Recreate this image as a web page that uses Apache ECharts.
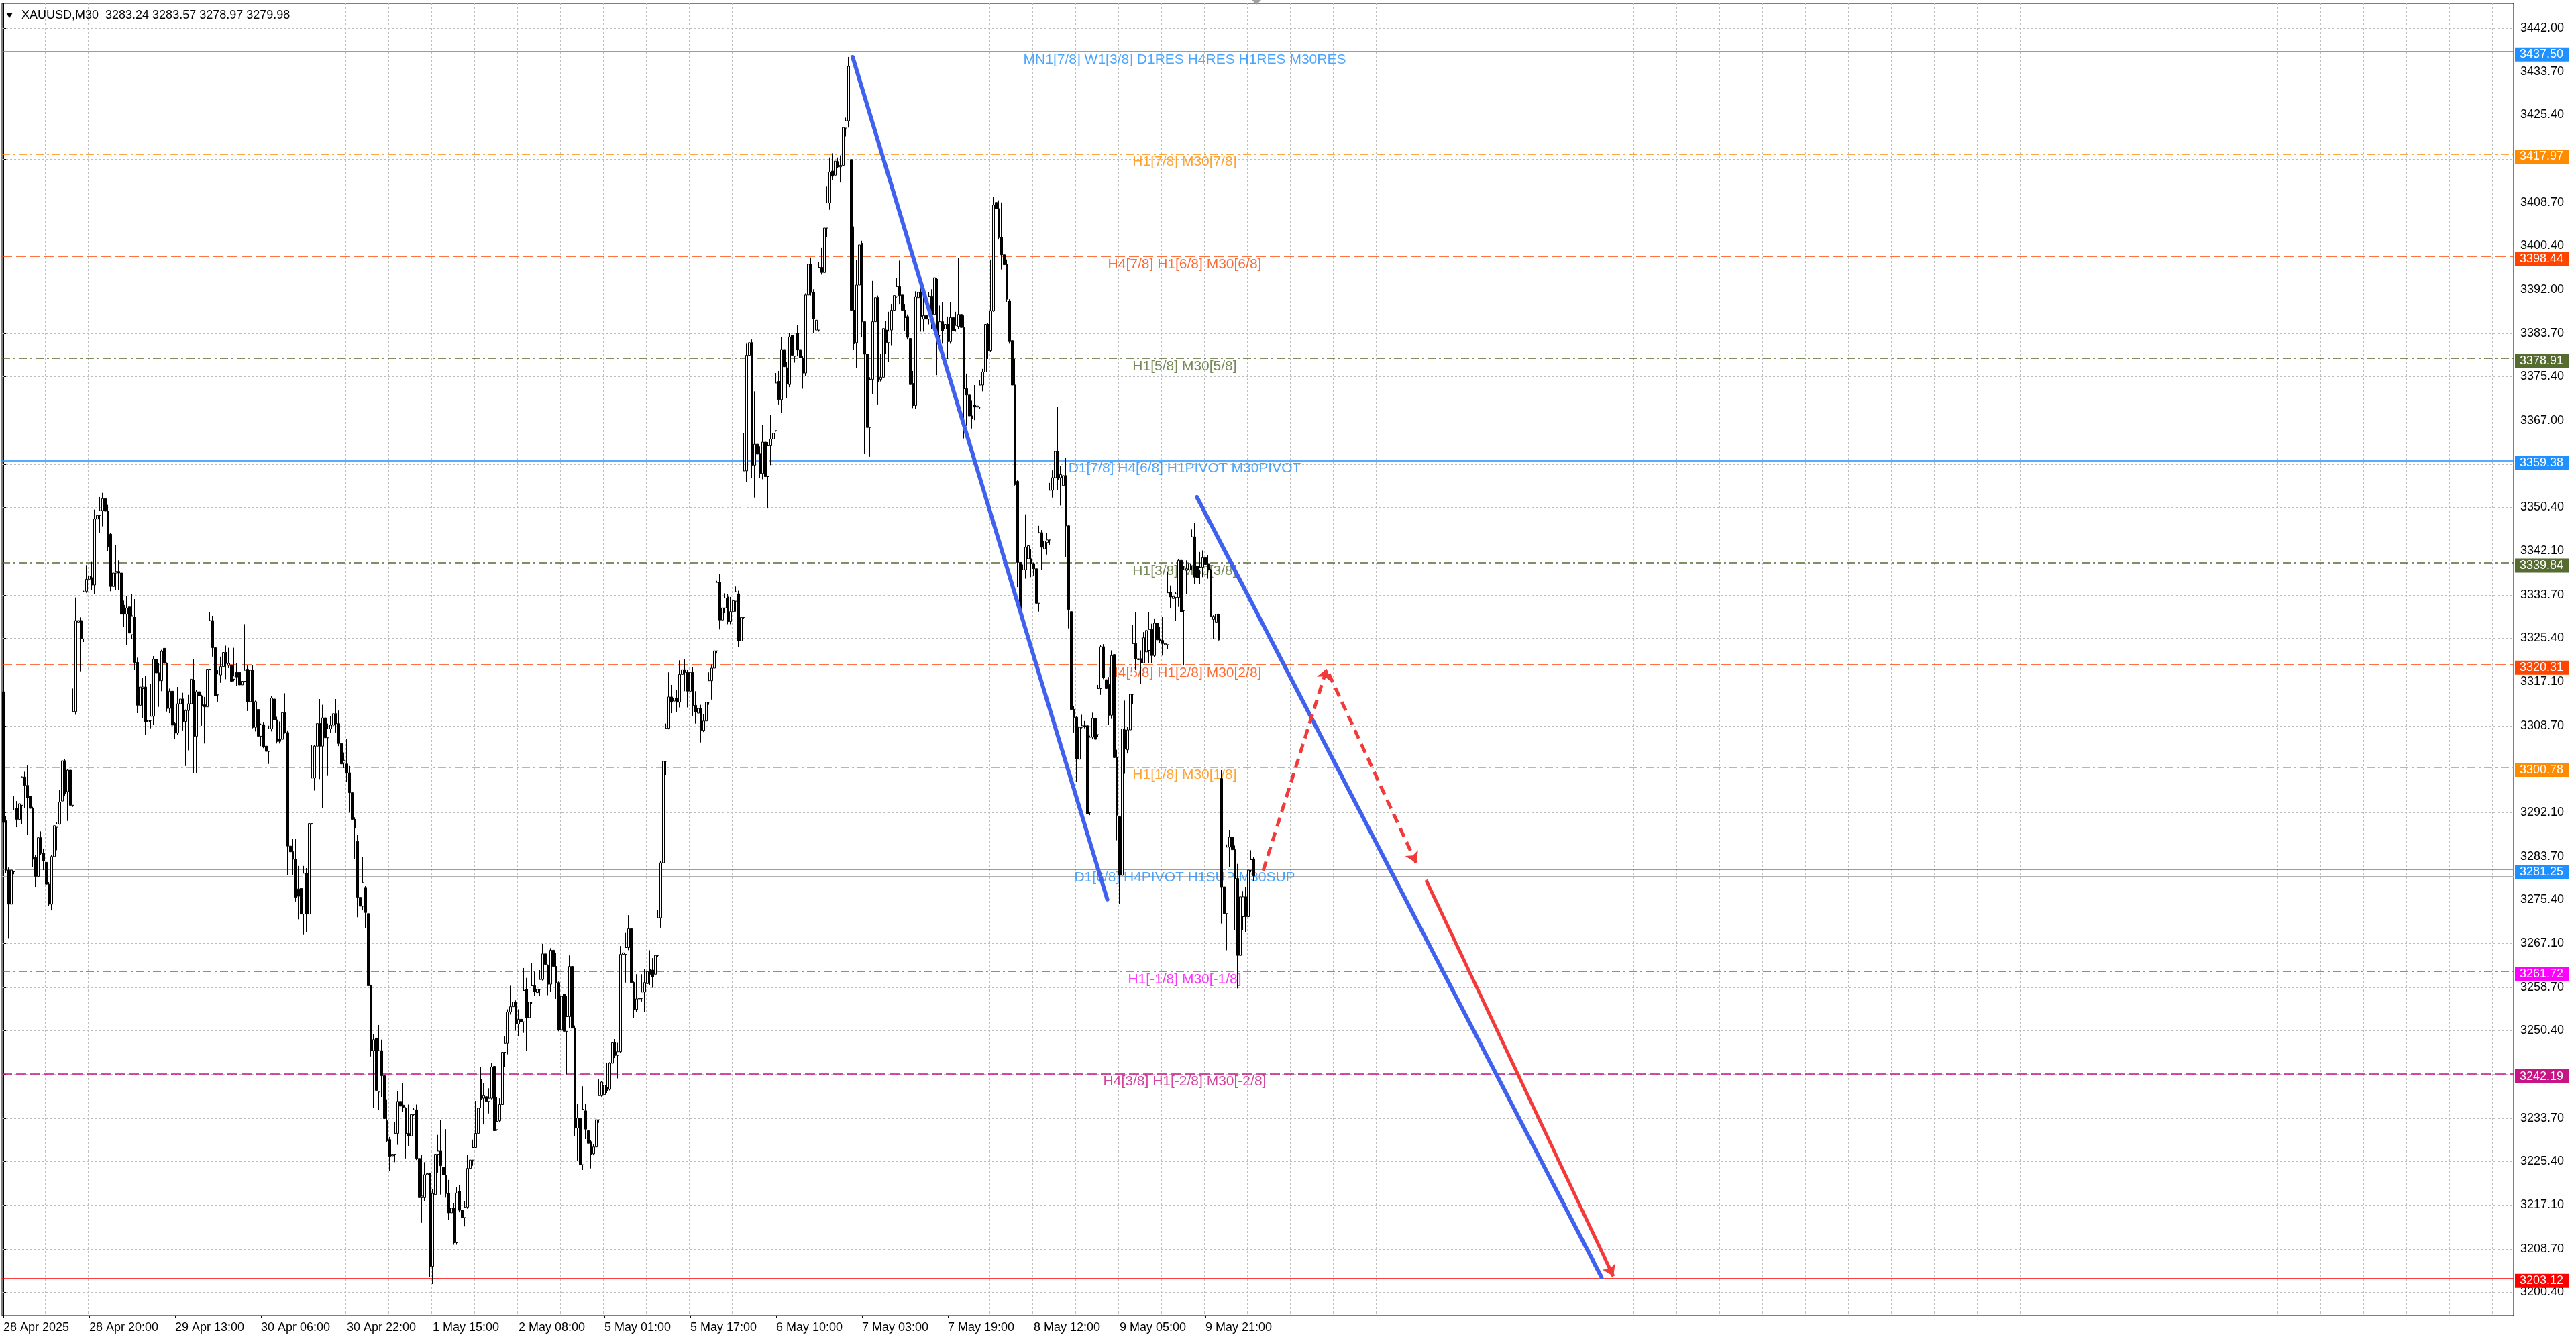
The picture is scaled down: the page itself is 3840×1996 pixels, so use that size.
<!DOCTYPE html>
<html><head><meta charset="utf-8">
<script src="https://cdn.jsdelivr.net/npm/echarts@6/dist/echarts.min.js"></script>
<style>html,body{margin:0;padding:0;background:#fff;}#c{width:3840px;height:1996px;}</style>
</head><body><div id="c"></div>
<script>
// ---------- DATA ----------
const symbolName = 'XAUUSD,M30';
const timeLabels = ['28 Apr 2025','28 Apr 20:00','29 Apr 13:00','30 Apr 06:00','30 Apr 22:00','1 May 15:00','2 May 08:00','5 May 01:00','5 May 17:00','6 May 10:00','7 May 03:00','7 May 19:00','8 May 12:00','9 May 05:00','9 May 21:00'];
const O = [3315.2,3290.5,3281.1,3274.6,3280.8,3292.9,3290.8,3293.5,3298.9,3297.3,
3295.2,3292.9,3283.5,3279.9,3287.3,3284.3,3282.6,3278.4,3274.6,3283.7,
3289.3,3289.9,3294.3,3302.0,3296.1,3300.2,3293.5,3311.4,3328.5,3328.8,
3325.3,3334.4,3336.7,3337.0,3335.6,3348.2,3348.9,3349.8,3352.1,3349.7,
3345.3,3335.3,3337.9,3338.2,3337.9,3331.7,3330.0,3331.4,3326.1,3329.5,
3320.8,3312.6,3315.8,3316.1,3309.4,3309.7,3310.5,3321.4,3318.8,3317.3,
3323.5,3320.6,3312.0,3315.3,3309.1,3307.3,3312.9,3313.8,3309.5,3311.6,
3312.9,3317.4,3306.7,3315.2,3314.4,3312.7,3312.3,3319.5,3328.8,3323.6,
3314.6,3318.4,3320.0,3322.7,3320.2,3320.3,3317.6,3318.9,3318.9,3316.5,
3317.2,3319.5,3313.3,3319.3,3308.4,3311.8,3306.7,3308.9,3304.8,3303.8,
3308.1,3313.8,3309.8,3306.1,3306.1,3311.2,3307.4,3285.7,3284.6,3283.2,
3277.5,3277.6,3272.7,3280.5,3272.7,3290.0,3298.7,3304.8,3309.1,3304.8,
3310.2,3306.4,3308.1,3308.8,3311.0,3309.1,3305.3,3301.6,3301.4,3299.7,
3295.9,3290.8,3286.6,3275.9,3274.2,3277.8,3272.8,3259.0,3246.6,3249.0,
3238.7,3246.6,3241.8,3233.2,3229.6,3226.5,3226.8,3230.8,3236.9,3236.2,
3235.6,3230.8,3230.3,3234.4,3235.3,3226.0,3218.5,3218.5,3222.9,3223.1,
3205.4,3219.1,3226.8,3227.4,3224.3,3222.7,3219.3,3215.6,3216.5,3209.9,
3219.7,3216.1,3214.7,3216.7,3224.1,3225.7,3228.1,3230.8,3241.1,3237.5,
3237.8,3236.9,3237.5,3243.6,3231.5,3233.2,3236.3,3246.3,3248.0,3254.0,
3255.0,3255.9,3251.7,3252.6,3252.1,3258.3,3252.9,3255.9,3259.0,3257.7,
3258.3,3260.2,3265.1,3262.9,3259.3,3265.8,3262.7,3259.6,3250.6,3257.4,
3250.3,3253.1,3262.7,3250.9,3231.8,3233.7,3224.8,3235.1,3231.3,3229.2,
3226.9,3228.2,3233.4,3238.0,3238.2,3239.5,3239.2,3244.2,3248.1,3245.7,
3246.4,3265.0,3265.0,3266.3,3269.9,3259.6,3254.5,3256.5,3256.6,3257.8,
3259.4,3262.2,3262.0,3261.2,3264.8,3272.0,3282.5,3301.9,3308.2,3314.2,
3313.4,3314.0,3313.2,3318.5,3319.4,3318.9,3315.3,3318.9,3312.6,3311.1,
3312.0,3307.8,3309.6,3313.2,3317.3,3319.7,3323.0,3336.1,3328.9,3331.2,
3333.3,3328.6,3330.5,3332.5,3333.9,3324.9,3329.4,3357.4,3379.5,3381.9,
3358.5,3362.5,3360.6,3356.9,3362.9,3356.3,3362.2,3363.5,3365.1,3374.5,
3371.0,3380.6,3377.1,3373.9,3383.3,3379.3,3383.7,3380.6,3379.0,3376.1,
3391.0,3396.9,3391.5,3384.3,3384.3,3396.3,3395.3,3403.8,3408.6,3414.7,
3413.9,3416.5,3415.5,3415.8,3422.9,3424.3,3416.9,3388.1,3381.9,3392.9,
3400.9,3385.9,3379.7,3365.7,3374.9,3385.9,3390.5,3374.9,3375.3,3384.3,
3381.9,3384.3,3388.1,3390.7,3392.6,3391.0,3388.1,3386.9,3382.7,3374.1,
3369.9,3390.5,3391.6,3386.4,3387.1,3386.4,3390.8,3387.3,3394.0,3383.3,
3385.9,3384.5,3385.4,3382.1,3386.7,3384.5,3385.0,3387.3,3384.8,3373.1,
3371.9,3367.9,3370.0,3369.6,3369.6,3373.8,3376.3,3385.4,3380.4,3388.0,
3408.7,3407.5,3402.0,3398.7,3396.8,3389.9,3382.3,3373.8,3355.4,3339.9,
3330.0,3338.5,3340.6,3340.6,3339.7,3338.7,3332.1,3345.6,3342.5,3343.7,
3344.2,3353.7,3356.1,3361.1,3356.1,3354.6,3356.5,3346.9,3330.5,3311.8,
3310.3,3302.3,3308.4,3308.7,3308.7,3292.1,3306.5,3310.1,3307.0,3315.8,
3323.8,3317.5,3316.6,3310.7,3322.3,3302.6,3291.3,3280.1,3307.9,3304.1,
3307.9,3314.7,3324.4,3321.3,3321.5,3320.7,3322.8,3323.1,3327.1,3322.1,
3328.3,3325.3,3325.0,3324.2,3324.2,3334.2,3333.0,3333.2,3333.2,3340.3,
3330.7,3338.4,3338.5,3339.3,3344.8,3339.2,3338.5,3339.0,3340.8,3339.7,
3338.5,3329.0,3328.5,3330.0,3298.6,3277.9,3272.8,3285.5,3287.4,3285.0,
3279.5,3264.8,3272.2,3276.0,3272.2,3281.1,3283.24];
const H = [3316.5,3291.4,3281.6,3281.5,3295.2,3294.3,3294.3,3299.0,3299.9,3301.1,
3296.7,3293.2,3284.0,3292.6,3288.5,3285.2,3287.3,3278.8,3284.0,3292.0,
3290.2,3296.4,3302.2,3302.3,3300.4,3301.4,3315.8,3333.2,3336.2,3329.4,
3334.5,3339.4,3339.4,3340.0,3350.0,3350.0,3352.4,3353.2,3352.4,3350.9,
3345.5,3340.0,3343.2,3340.3,3339.4,3332.6,3333.5,3340.3,3333.8,3332.9,
3321.7,3317.6,3317.9,3318.2,3312.9,3316.7,3322.0,3324.1,3320.6,3323.2,
3325.3,3320.8,3315.8,3316.1,3309.4,3316.1,3316.1,3315.0,3311.8,3314.6,
3318.0,3321.4,3315.5,3315.5,3314.6,3314.2,3320.2,3330.4,3329.7,3325.7,
3319.3,3321.9,3325.1,3324.0,3323.6,3321.9,3323.6,3320.6,3319.3,3318.0,
3328.1,3320.2,3322.7,3320.2,3313.5,3312.3,3309.1,3309.3,3307.0,3308.7,
3314.4,3314.9,3310.4,3309.5,3312.7,3314.9,3307.8,3289.1,3287.0,3287.0,
3281.9,3280.2,3281.9,3281.5,3292.1,3305.0,3305.0,3320.0,3313.8,3312.7,
3314.6,3309.1,3310.6,3314.2,3313.8,3311.6,3307.8,3303.6,3306.1,3301.0,
3296.1,3291.2,3287.8,3276.8,3283.6,3278.1,3273.5,3259.2,3249.7,3251.4,
3251.5,3248.7,3242.5,3237.3,3230.1,3231.8,3233.0,3238.9,3243.3,3240.4,
3235.8,3236.3,3236.6,3235.6,3236.3,3226.2,3226.7,3225.3,3227.0,3223.3,
3220.2,3232.9,3230.5,3233.4,3228.4,3231.6,3221.9,3217.1,3217.4,3220.5,
3220.9,3216.4,3217.8,3226.7,3227.0,3229.6,3237.0,3235.8,3243.5,3240.4,
3239.9,3239.4,3244.2,3244.5,3237.7,3237.5,3247.6,3249.3,3254.5,3259.0,
3257.4,3256.2,3254.5,3256.2,3262.4,3260.5,3258.4,3263.4,3261.7,3259.6,
3262.0,3267.0,3265.8,3263.1,3266.2,3269.4,3265.3,3259.8,3259.6,3259.6,
3257.0,3264.8,3264.3,3251.4,3236.4,3235.9,3239.8,3236.4,3232.8,3229.5,
3228.7,3234.7,3241.1,3240.8,3243.1,3244.2,3244.4,3252.6,3248.8,3248.1,
3266.6,3271.2,3269.1,3272.5,3271.5,3259.8,3261.2,3259.1,3261.2,3262.2,
3262.5,3265.8,3264.3,3266.8,3273.5,3282.8,3302.0,3309.1,3318.9,3316.5,
3315.8,3315.5,3321.2,3322.5,3321.4,3319.4,3328.6,3319.9,3315.3,3317.8,
3312.7,3310.9,3315.8,3318.9,3320.4,3323.7,3336.4,3337.7,3333.8,3334.0,
3333.8,3333.3,3333.8,3335.3,3334.5,3330.2,3364.6,3381.7,3387.0,3382.5,
3372.6,3364.5,3362.1,3366.2,3364.1,3362.9,3368.1,3367.5,3376.1,3376.5,
3383.0,3381.3,3378.2,3383.7,3383.8,3383.8,3385.3,3381.3,3379.3,3391.3,
3397.3,3398.2,3392.1,3388.9,3397.3,3400.1,3404.1,3411.7,3417.3,3418.1,
3417.1,3417.3,3417.7,3423.3,3424.9,3436.5,3422.1,3404.1,3397.7,3404.5,
3401.4,3386.1,3381.3,3375.3,3393.7,3392.3,3390.9,3379.7,3386.9,3386.1,
3387.8,3389.3,3395.8,3394.2,3397.6,3391.3,3389.3,3387.3,3382.9,3376.5,
3391.7,3393.7,3394.0,3391.6,3392.6,3391.6,3392.1,3398.2,3394.3,3389.0,
3389.7,3386.9,3386.9,3389.7,3387.3,3387.8,3398.1,3390.7,3387.1,3376.0,
3374.1,3370.8,3373.8,3371.7,3374.7,3376.9,3386.9,3385.6,3397.8,3409.8,
3414.8,3409.1,3408.7,3399.7,3397.8,3390.2,3384.0,3378.8,3355.6,3340.1,
3339.5,3349.1,3344.2,3342.5,3339.9,3344.7,3346.9,3346.1,3344.7,3345.6,
3355.1,3357.5,3364.9,3369.6,3358.4,3358.9,3359.9,3347.1,3330.7,3312.5,
3310.5,3309.0,3310.8,3309.6,3311.0,3306.8,3311.2,3310.3,3316.5,3324.1,
3324.3,3317.9,3318.0,3323.1,3322.8,3304.1,3291.5,3308.5,3313.5,3308.5,
3319.3,3327.9,3330.4,3325.0,3323.1,3326.6,3332.1,3330.4,3328.2,3329.2,
3331.1,3327.6,3329.5,3326.3,3338.1,3335.5,3335.5,3334.2,3340.6,3340.5,
3339.3,3340.3,3343.5,3346.2,3347.4,3342.2,3341.9,3342.2,3342.8,3341.3,
3338.7,3329.8,3330.4,3330.1,3300.2,3281.1,3286.0,3288.8,3290.3,3285.8,
3282.3,3276.1,3277.1,3277.9,3281.4,3284.9,3283.57];
const L = [3289.0,3280.5,3268.1,3272.3,3280.3,3289.3,3288.8,3289.9,3292.9,3287.9,
3292.6,3281.7,3277.9,3279.0,3284.0,3281.1,3278.2,3274.3,3273.4,3283.5,
3284.9,3289.8,3292.6,3295.2,3290.5,3287.0,3293.2,3310.8,3323.5,3319.1,
3324.7,3334.1,3333.2,3334.7,3333.8,3346.5,3345.6,3346.8,3347.9,3342.0,
3334.4,3334.4,3334.7,3334.7,3327.9,3327.6,3324.1,3322.6,3325.3,3319.4,
3311.1,3308.5,3310.2,3307.0,3305.2,3308.2,3308.8,3315.0,3312.3,3315.3,
3320.0,3311.4,3311.1,3308.5,3306.1,3307.0,3312.6,3307.8,3301.0,3304.0,
3312.1,3299.7,3299.7,3308.7,3308.7,3305.3,3312.1,3319.3,3321.9,3313.3,
3313.3,3316.9,3319.7,3317.6,3319.7,3316.9,3317.2,3316.3,3311.0,3312.9,
3317.0,3311.5,3312.5,3308.2,3307.6,3305.3,3304.8,3304.4,3302.7,3301.4,
3307.6,3309.6,3305.3,3305.3,3303.1,3307.2,3280.2,3284.4,3280.2,3275.1,
3271.7,3272.5,3268.7,3269.3,3267.0,3289.8,3296.3,3304.4,3298.5,3292.9,
3303.1,3299.1,3307.4,3308.2,3307.4,3304.8,3300.8,3300.6,3298.0,3292.1,
3289.1,3283.2,3272.1,3271.3,3273.4,3270.0,3245.2,3245.5,3235.6,3234.6,
3235.3,3237.7,3231.2,3229.1,3223.6,3221.2,3225.3,3228.6,3234.9,3234.9,
3226.0,3228.4,3230.1,3234.2,3225.7,3215.7,3213.7,3217.8,3222.6,3203.4,
3202.0,3218.5,3223.3,3219.1,3214.3,3218.5,3214.3,3205.1,3209.5,3209.5,
3215.7,3209.9,3213.0,3216.4,3223.9,3224.6,3227.9,3230.1,3235.6,3232.5,
3236.6,3234.6,3237.3,3227.4,3231.3,3232.9,3236.0,3243.5,3245.9,3253.5,
3254.7,3250.4,3249.3,3251.7,3250.0,3246.5,3251.7,3255.5,3257.0,3257.4,
3257.0,3260.0,3261.7,3257.2,3257.9,3259.6,3256.5,3250.3,3239.0,3243.7,
3242.1,3250.9,3248.1,3230.3,3225.6,3222.7,3223.8,3229.7,3226.1,3224.1,
3226.6,3227.7,3232.8,3237.8,3238.0,3238.5,3239.0,3243.7,3245.2,3241.3,
3246.2,3264.8,3259.6,3265.8,3257.0,3252.9,3254.0,3253.4,3256.0,3254.0,
3259.1,3259.1,3258.6,3260.7,3264.5,3270.1,3282.1,3299.3,3308.0,3311.1,
3312.2,3311.3,3312.2,3315.8,3315.3,3312.2,3309.6,3310.6,3309.1,3308.6,
3305.5,3307.5,3309.3,3312.7,3313.7,3319.4,3322.5,3327.1,3328.6,3330.2,
3328.1,3328.1,3330.2,3330.5,3323.8,3323.3,3329.2,3355.3,3375.0,3356.1,
3352.3,3355.8,3356.1,3355.8,3353.9,3350.2,3358.5,3361.7,3364.9,3370.1,
3368.5,3374.9,3371.3,3373.4,3378.1,3378.1,3379.3,3373.4,3373.1,3375.5,
3390.1,3390.9,3383.8,3378.1,3384.0,3394.9,3394.7,3402.1,3407.3,3412.9,
3410.2,3415.3,3412.5,3414.7,3421.3,3423.0,3384.6,3380.6,3377.1,3390.0,
3382.9,3360.6,3362.5,3360.1,3372.1,3385.3,3370.1,3374.5,3374.9,3379.7,
3378.2,3381.3,3387.7,3390.5,3389.3,3386.1,3384.1,3382.5,3373.3,3369.4,
3369.3,3389.3,3384.0,3384.0,3386.1,3385.4,3384.5,3386.4,3375.7,3381.9,
3381.7,3382.1,3378.8,3381.7,3383.8,3384.0,3384.5,3376.0,3363.6,3366.0,
3365.1,3365.5,3367.1,3367.9,3369.3,3372.6,3375.0,3378.8,3380.2,3387.8,
3407.2,3401.6,3395.9,3395.6,3389.7,3381.7,3370.3,3354.6,3335.2,3320.3,
3329.5,3336.8,3337.6,3337.1,3337.4,3331.4,3330.5,3338.5,3339.7,3341.4,
3343.3,3352.3,3355.8,3353.7,3350.8,3352.7,3340.9,3327.3,3304.4,3307.4,
3298.0,3299.5,3308.2,3308.2,3289.0,3291.6,3306.1,3303.6,3306.5,3314.6,
3317.6,3312.2,3308.8,3310.0,3297.9,3286.8,3274.7,3279.9,3299.5,3303.4,
3307.7,3312.9,3319.3,3314.8,3316.7,3320.6,3322.1,3320.6,3320.6,3321.8,
3325.0,3324.5,3322.1,3322.0,3323.4,3331.1,3331.1,3328.8,3331.4,3330.1,
3320.2,3333.9,3338.2,3338.4,3335.8,3336.8,3335.8,3337.1,3338.4,3336.8,
3329.5,3325.3,3325.3,3325.0,3270.9,3266.7,3265.8,3281.7,3282.7,3269.6,
3258.5,3263.9,3269.6,3269.3,3270.2,3280.7,3278.97];
const C = [3290.2,3281.1,3274.6,3281.1,3292.6,3290.8,3293.8,3298.9,3297.3,3294.9,
3292.9,3283.2,3279.9,3287.3,3284.3,3282.9,3278.4,3274.6,3283.7,3289.6,
3289.9,3294.1,3302.0,3295.8,3300.2,3293.5,3311.4,3328.8,3328.8,3325.3,
3334.3,3336.7,3337.3,3335.6,3348.2,3348.9,3349.8,3352.1,3349.7,3342.9,
3335.3,3337.9,3338.2,3337.9,3330.0,3330.0,3331.2,3326.4,3329.7,3320.8,
3312.6,3316.1,3316.1,3309.4,3309.7,3310.5,3321.4,3318.8,3317.3,3322.9,
3320.6,3312.0,3315.3,3308.8,3307.3,3312.9,3313.8,3309.5,3311.6,3312.9,
3317.6,3306.7,3315.2,3314.4,3312.5,3312.3,3319.5,3328.8,3323.6,3314.4,
3318.6,3320.0,3322.7,3320.6,3320.6,3317.2,3318.2,3318.0,3316.5,3317.2,
3319.3,3313.3,3319.3,3308.4,3313.3,3306.7,3308.9,3304.7,3303.8,3308.1,
3314.0,3309.8,3305.7,3305.7,3311.2,3307.4,3285.7,3284.6,3283.2,3275.9,
3276.1,3272.7,3280.5,3272.7,3290.0,3298.7,3304.8,3309.1,3304.8,3310.2,
3306.4,3308.1,3308.8,3311.0,3309.1,3305.3,3301.4,3302.1,3299.7,3295.9,
3290.8,3289.1,3275.9,3274.2,3278.7,3273.0,3259.0,3246.6,3248.7,3239.0,
3246.6,3241.8,3233.6,3229.4,3226.4,3226.8,3230.8,3236.9,3236.0,3235.8,
3230.7,3230.3,3234.4,3235.3,3226.0,3218.5,3218.8,3222.9,3223.1,3205.4,
3219.3,3226.8,3227.4,3224.6,3222.9,3219.3,3215.6,3216.5,3209.9,3219.4,
3216.1,3214.7,3216.7,3224.1,3225.7,3228.1,3230.8,3235.6,3237.3,3238.0,
3236.9,3237.5,3243.5,3231.3,3233.1,3236.3,3246.3,3248.0,3254.0,3255.0,
3255.9,3251.7,3252.6,3252.1,3258.1,3252.9,3255.9,3259.0,3257.9,3258.3,
3260.2,3265.1,3263.1,3259.3,3265.8,3262.7,3259.6,3250.6,3257.0,3250.3,
3253.1,3262.7,3250.9,3231.8,3233.7,3224.8,3235.4,3231.6,3228.9,3226.7,
3228.2,3233.4,3238.0,3240.6,3240.0,3239.0,3244.2,3248.1,3245.7,3246.4,
3265.0,3265.3,3266.3,3269.9,3259.6,3254.5,3256.5,3256.6,3257.8,3259.6,
3261.7,3261.2,3260.7,3264.8,3272.0,3282.5,3301.9,3308.2,3314.2,3313.2,
3314.0,3313.2,3318.5,3319.4,3318.9,3315.3,3318.9,3312.6,3311.3,3312.0,
3307.8,3309.6,3313.2,3317.3,3319.7,3323.0,3336.1,3328.9,3331.2,3333.1,
3328.6,3330.5,3332.6,3334.3,3324.9,3329.4,3357.4,3379.5,3381.9,3358.5,
3362.5,3360.6,3356.9,3362.9,3356.3,3362.2,3363.5,3364.6,3374.2,3371.0,
3380.6,3377.3,3374.1,3383.0,3379.5,3383.7,3380.5,3379.0,3376.1,3391.0,
3396.9,3391.5,3386.5,3386.2,3396.3,3395.3,3403.8,3408.6,3414.5,3413.7,
3416.6,3415.5,3415.8,3423.0,3424.3,3434.7,3388.1,3381.7,3392.9,3400.6,
3385.9,3379.7,3365.7,3374.9,3385.9,3390.5,3374.5,3375.3,3384.6,3381.9,
3384.1,3388.1,3390.9,3392.6,3390.9,3388.1,3386.7,3382.9,3373.9,3369.9,
3390.7,3391.5,3386.9,3387.1,3386.4,3390.8,3387.3,3394.3,3383.3,3385.9,
3384.2,3385.4,3382.1,3386.7,3384.2,3385.2,3387.3,3384.8,3373.1,3371.9,
3367.9,3367.4,3369.6,3369.8,3373.8,3376.3,3385.4,3380.4,3388.0,3408.2,
3407.5,3402.0,3398.7,3396.8,3390.2,3382.1,3373.8,3354.8,3339.9,3330.0,
3338.5,3342.8,3343.1,3339.7,3338.7,3332.1,3345.6,3342.8,3344.0,3344.2,
3353.7,3356.1,3361.1,3355.8,3356.7,3356.5,3346.9,3330.9,3311.8,3310.3,
3302.3,3308.4,3308.7,3308.5,3291.9,3306.5,3310.1,3306.1,3315.8,3323.8,
3317.9,3315.8,3310.7,3322.1,3302.6,3291.6,3280.1,3308.1,3304.3,3307.9,
3314.7,3324.4,3321.5,3321.5,3320.7,3325.5,3326.9,3327.1,3322.1,3328.3,
3325.1,3325.0,3324.4,3324.4,3334.1,3333.3,3333.4,3333.9,3340.3,3330.4,
3338.5,3338.7,3339.7,3344.8,3337.1,3337.0,3339.0,3340.8,3339.5,3338.5,
3329.6,3329.6,3330.0,3325.1,3277.9,3272.8,3285.5,3287.4,3285.0,3279.5,
3264.8,3276.0,3276.0,3272.2,3281.1,3283.1,3279.98];

// price axis ticks (as printed on the axis); hidden ones lie under price tags
const yTicks = [3200.40,3208.70,3217.10,3225.40,3233.70,3242.10,3250.40,3258.70,3267.10,3275.40,3283.70,3292.10,3300.40,3308.70,3317.10,3325.40,3333.70,3342.10,3350.40,3358.70,3367.00,3375.40,3383.70,3392.00,3400.40,3408.70,3417.00,3425.40,3433.70,3442.00];
const yTicksHidden = [3242.10,3300.40,3358.70,3417.00];

// Murrey-math levels
const levelPrices = [3437.50,3417.97,3398.44,3378.91,3359.38,3339.84,3320.31,3300.78,3281.25,3261.72,3242.19,3203.12];
const levelTexts = ['MN1[7/8] W1[3/8] D1RES H4RES H1RES M30RES','H1[7/8] M30[7/8]','H4[7/8] H1[6/8] M30[6/8]','H1[5/8] M30[5/8]','D1[7/8] H4[6/8] H1PIVOT M30PIVOT','H1[3/8] M30[3/8]','H4[5/8] H1[2/8] M30[2/8]','H1[1/8] M30[1/8]','D1[6/8] H4PIVOT H1SUP M30SUP','H1[-1/8] M30[-1/8]','H4[3/8] H1[-2/8] M30[-2/8]',''];
const bidPrice = 3279.98;

// drawn trend lines / arrows: [bar index, price]
const blueLine1 = [[316.5,3436.5],[411.4,3275.5]];
const blueLine2 = [[444.8,3352.4],[595.6,3203.3]];
const redDashUp = [[469.5,3281.0],[493.2,3319.6]];
const redDashDown = [[494.0,3318.6],[526.5,3282.5]];
const redSolid = [[530.2,3279.2],[600.0,3203.5]];

// ---------- STYLE / LAYOUT ----------
const SLOTS = 936;              // bars that fit the plot width (incl. right shift)
const LABEL_STEP = 32, GRID_STEP = 16;
const TEXT_SLOT = 440.25;       // x (bar) where level texts are centred
const UI = '"Liberation Sans", Arial, sans-serif';
const UI_SIZE = 18;
const DASH = [15,6], DASHDOT = [12,5,3,5];
const levelStyles = [
  {c:'#1E90FF', t:'solid'}, {c:'#FF8C00', t:DASHDOT}, {c:'#FF4500', t:DASH}, {c:'#556B2F', t:DASHDOT},
  {c:'#1E90FF', t:'solid'}, {c:'#556B2F', t:DASHDOT}, {c:'#FF4500', t:DASH}, {c:'#FF8C00', t:DASHDOT},
  {c:'#1E90FF', t:'solid'}, {c:'#FF00FF', t:DASHDOT}, {c:'#C71585', t:DASH}, {c:'#FF0000', t:'solid'}
];

const slots = Array.from({length: SLOTS}, (_, i) => String(i));
const candles = O.map((o, i) => [o, C[i], L[i], H[i]]);
const last = O.length - 1;
const header = symbolName + '  ' + [O[last], H[last], L[last], C[last]].map(v => v.toFixed(2)).join(' ');
const labelIdx = i => i % LABEL_STEP === 0 && (i / LABEL_STEP) < timeLabels.length;

const chart = echarts.init(document.getElementById('c'), null, {renderer: 'canvas'});
chart.setOption({
  animation: false,
  backgroundColor: '#ffffff',
  grid: {left: 3, right: 93, top: 5, bottom: 35, show: true, borderColor: '#000', borderWidth: 1, backgroundColor: 'transparent'},
  xAxis: [{
    type: 'category', data: slots, boundaryGap: true,
    axisLine: {show: true, lineStyle: {color: '#000', width: 1}},
    axisTick: {show: true, alignWithLabel: true, interval: (i) => labelIdx(i), length: 4, lineStyle: {color: '#000'}},
    axisLabel: {show: true, interval: (i) => labelIdx(i), formatter: (v, i) => timeLabels[i / LABEL_STEP] || '',
      align: 'left', margin: 9, color: '#000', fontFamily: UI, fontSize: UI_SIZE},
    splitLine: {show: true, interval: (i) => i > 0 && i % GRID_STEP === 0, lineStyle: {color: '#bdbdbd', width: 1, type: [3, 3]}}
  }, {
    type: 'value', min: -0.5, max: SLOTS - 0.5, show: false
  }],
  yAxis: {
    type: 'value', position: 'right', min: 3195.98, max: 3446.75,
    axisLine: {show: true, lineStyle: {color: '#000', width: 1}},
    axisTick: {show: true, customValues: yTicks, length: 4, lineStyle: {color: '#000'}},
    axisLabel: {show: true, customValues: yTicks.filter(v => !yTicksHidden.includes(v)), formatter: v => v.toFixed(2),
      margin: 10, color: '#000', fontFamily: UI, fontSize: UI_SIZE},
    splitLine: {show: false}
  },
  series: [
    { // grid lines at price ticks
      type: 'line', xAxisIndex: 1, yAxisIndex: 0, data: [], silent: true, z: 1,
      markLine: {silent: true, z: 1, symbol: ['none', 'none'], animation: false, label: {show: false},
        emphasis: {disabled: true},
        lineStyle: {color: '#bdbdbd', width: 1, type: [3, 3]},
        data: yTicks.map(v => ({yAxis: v}))}
    },
    { // bid line
      type: 'line', xAxisIndex: 1, yAxisIndex: 0, data: [], silent: true, z: 1,
      markLine: {silent: true, z: 1, symbol: ['none', 'none'], animation: false, label: {show: false},
        emphasis: {disabled: true},
        lineStyle: {color: '#b0b0b0', width: 1, type: 'solid'},
        data: [{yAxis: bidPrice}]}
    },
    { // level lines + price tags (tag sits a few px below its line, as in the terminal)
      type: 'line', xAxisIndex: 1, yAxisIndex: 0, data: [], silent: true, z: 2,
      markLine: {silent: true, z: 2, symbol: ['none', 'none'], animation: false,
        emphasis: {disabled: true},
        data: levelPrices.map((p, i) => ({
          yAxis: p,
          lineStyle: {color: levelStyles[i].c, width: 1.5, type: levelStyles[i].t, opacity: 1},
          label: {show: true, position: 'end', distance: 2,
            formatter: '{s| }\n{t|' + p.toFixed(2) + '}',
            rich: {
              s: {fontSize: 4, lineHeight: 8, height: 8},
              t: {backgroundColor: levelStyles[i].c, color: '#fff', padding: [0, 8, 0, 7],
                lineHeight: 21, height: 21, fontFamily: UI, fontSize: UI_SIZE}
            }}
        }))}
    },
    { // level texts
      type: 'scatter', xAxisIndex: 1, yAxisIndex: 0, silent: true, z: 3, symbolSize: 1,
      itemStyle: {color: 'rgba(0,0,0,0)'},
      data: levelPrices.map((p, i) => ({
        value: [TEXT_SLOT, p],
        label: {show: levelTexts[i] !== '', formatter: levelTexts[i], position: 'inside', offset: [0, 12],
          color: levelStyles[i].c, fontFamily: UI, fontSize: 21}
      }))
    },
    { // candles
      type: 'candlestick', xAxisIndex: 0, yAxisIndex: 0, z: 5, silent: true, barWidth: 3,
      data: candles,
      itemStyle: {color: '#ffffff', color0: '#000000', borderColor: '#000000', borderColor0: '#000000', borderWidth: 1}
    },
    { // blue trend lines
      type: 'lines', coordinateSystem: 'cartesian2d', xAxisIndex: 1, yAxisIndex: 0, z: 6, silent: true,
      symbol: ['none', 'none'],
      lineStyle: {color: '#4060EE', width: 6, cap: 'round', opacity: 1},
      data: [{coords: blueLine1}, {coords: blueLine2}]
    },
    { // red arrows
      type: 'lines', coordinateSystem: 'cartesian2d', xAxisIndex: 1, yAxisIndex: 0, z: 7, silent: true,
      symbol: ['none', 'arrow'], symbolSize: 16,
      lineStyle: {color: '#F23A3A', width: 5, opacity: 1},
      data: [
        {coords: redDashUp, lineStyle: {type: [14, 9]}},
        {coords: redDashDown, lineStyle: {type: [14, 9]}},
        {coords: redSolid, lineStyle: {type: 'solid'}}
      ]
    }
  ]
});

// header + chart-shift marker (after the last bar)
const sx = chart.convertToPixel({xAxisIndex: 1}, O.length);
chart.setOption({graphic: [
  {type: 'polygon', shape: {points: [[9, 19], [19, 19], [14, 27]]}, style: {fill: '#000'}},
  {type: 'text', x: 32, y: 23, style: {text: header, font: UI_SIZE + 'px ' + UI, fill: '#000', verticalAlign: 'middle'}},
  {type: 'polygon', shape: {points: [[sx - 7, 0], [sx + 7, 0], [sx, 7]]}, style: {fill: '#a0a0a0'}}
]});
</script>
</body></html>
